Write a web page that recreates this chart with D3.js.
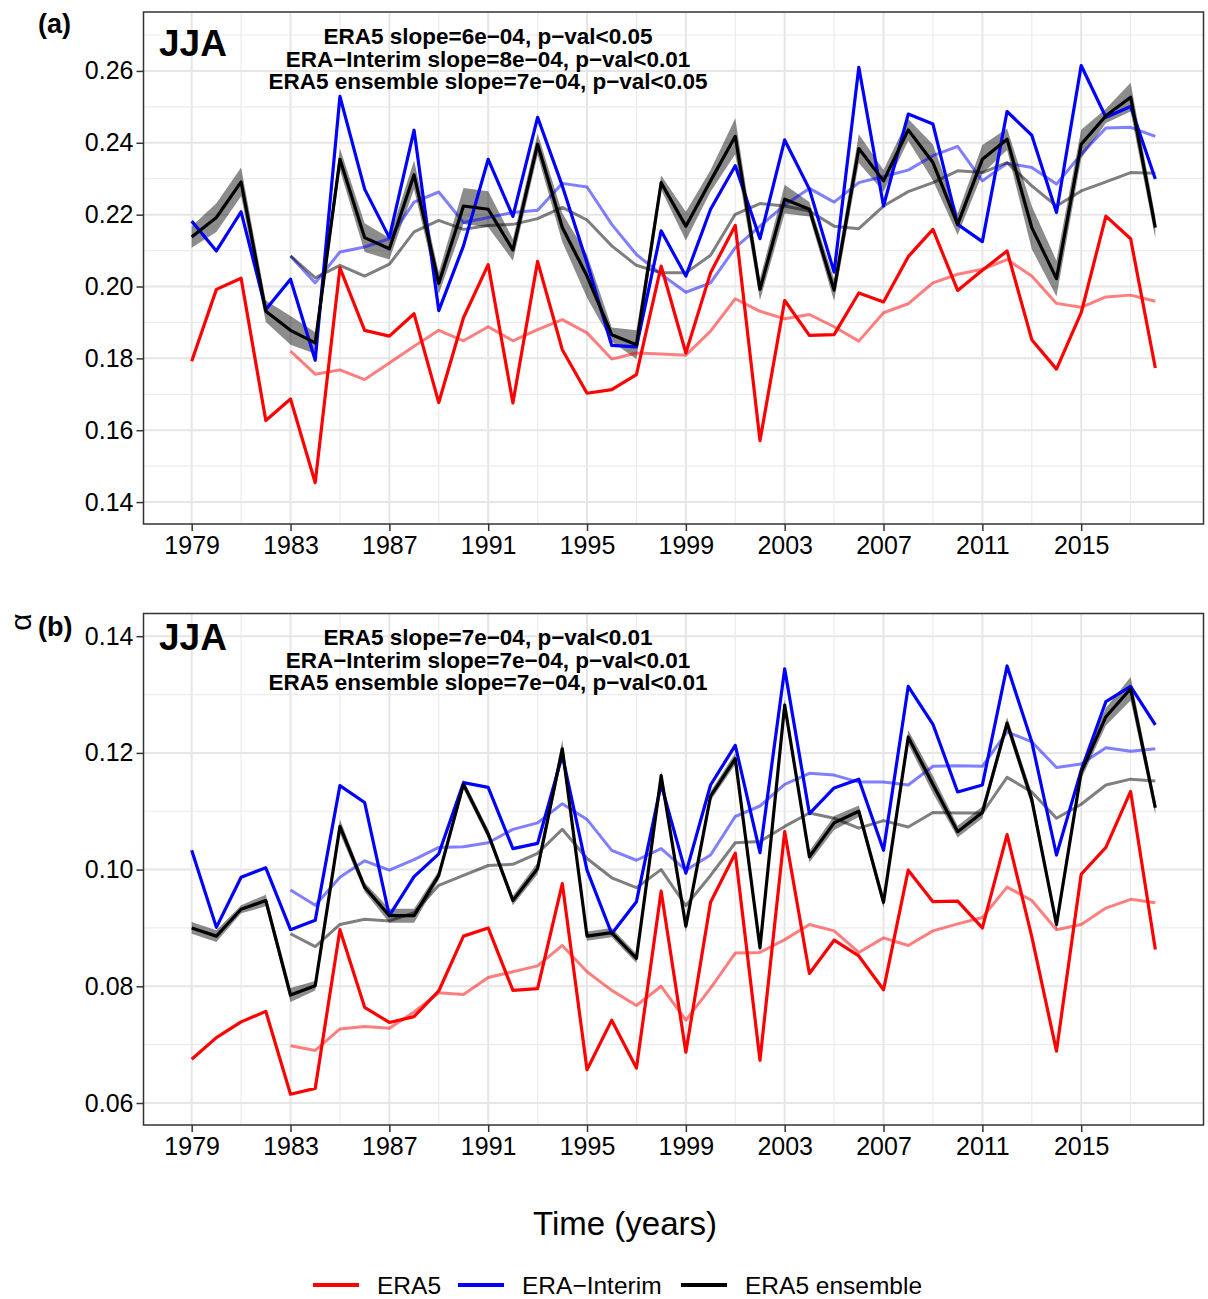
<!DOCTYPE html>
<html>
<head>
<meta charset="utf-8">
<script src="https://cdn.jsdelivr.net/npm/d3@7"></script>
<style>
  body { margin: 0; background: #fff; }
  svg { font-family: "Liberation Sans", Arial, sans-serif; }
</style>
</head>
<body>
<div id="chart"></div>
<script>
const years = [1979, 1980, 1981, 1982, 1983, 1984, 1985, 1986, 1987, 1988, 1989, 1990, 1991, 1992,
  1993, 1994, 1995, 1996, 1997, 1998, 1999, 2000, 2001, 2002, 2003, 2004, 2005, 2006,
  2007, 2008, 2009, 2010, 2011, 2012, 2013, 2014, 2015, 2016, 2017, 2018]
// the smoothed curves start in 1983
const smoothYears = years.slice(4)
const xTicks = [1979, 1983, 1987, 1991, 1995, 1999, 2003, 2007, 2011, 2015]

// panel (a)
const era5A = [0.1792, 0.1992, 0.2023, 0.1627, 0.1687, 0.1454, 0.2052, 0.1878, 0.1862, 0.1924, 0.1677, 0.1913, 0.2061,
  0.1676, 0.2070, 0.1824, 0.1703, 0.1713, 0.1755, 0.2057, 0.1815, 0.2038, 0.2170, 0.1571, 0.1961, 0.1864, 0.1866,
  0.1982, 0.1957, 0.2083, 0.2159, 0.1989, 0.2045, 0.2099, 0.1852, 0.1770, 0.1927, 0.2196, 0.2133, 0.1773]
const interimA = [0.2182, 0.2099, 0.2208, 0.1936, 0.2020, 0.1795, 0.2529, 0.2271, 0.2136, 0.2435, 0.1933, 0.2113, 0.2354,
  0.2195, 0.2471, 0.2280, 0.2066, 0.1836, 0.1832, 0.2155, 0.2029, 0.2215, 0.2336, 0.2133, 0.2408, 0.2271, 0.2040,
  0.2610, 0.2224, 0.2480, 0.2452, 0.2173, 0.2125, 0.2487, 0.2421, 0.2206, 0.2615, 0.2471, 0.2501, 0.2299]
const ensA = [0.2138, 0.2192, 0.2291, 0.1931, 0.1878, 0.1843, 0.2354, 0.2136, 0.2105, 0.2311, 0.2009, 0.2224, 0.2215,
  0.2102, 0.2396, 0.2164, 0.2029, 0.1866, 0.1838, 0.2289, 0.2168, 0.2294, 0.2418, 0.1992, 0.2243, 0.2215, 0.1990,
  0.2384, 0.2294, 0.2436, 0.2345, 0.2173, 0.2354, 0.2410, 0.2164, 0.2022, 0.2396, 0.2475, 0.2527, 0.2164]
const spreadA = [0.003, 0.004, 0.004, 0.003, 0.004, 0.003, 0.003, 0.004, 0.003, 0.004, 0.003, 0.005, 0.005,
  0.003, 0.003, 0.004, 0.006, 0.002, 0.004, 0.002, 0.004, 0.003, 0.005, 0.003, 0.004, 0.002, 0.003,
  0.004, 0.003, 0.003, 0.005, 0.003, 0.004, 0.003, 0.006, 0.005, 0.004, 0.002, 0.004, 0.003]
const era5SmoothA = [0.1820, 0.1756, 0.1768, 0.1741, 0.1787, 0.1834, 0.1878, 0.1849, 0.1888,
  0.1849, 0.1880, 0.1908, 0.1871, 0.1798, 0.1815, 0.1812, 0.1809, 0.1876, 0.1966, 0.1931, 0.1910, 0.1922, 0.1888,
  0.1848, 0.1927, 0.1952, 0.2010, 0.2034, 0.2048, 0.2075, 0.2029, 0.1953, 0.1942, 0.1971, 0.1976, 0.1959]
const interimSmoothA = [0.2085, 0.2010, 0.2096, 0.2110, 0.2133, 0.2235, 0.2263, 0.2178, 0.2192,
  0.2206, 0.2212, 0.2287, 0.2277, 0.2173, 0.2089, 0.2034, 0.1984, 0.2010, 0.2108, 0.2168, 0.2227, 0.2273, 0.2235,
  0.2289, 0.2306, 0.2324, 0.2364, 0.2390, 0.2294, 0.2343, 0.2331, 0.2285, 0.2368, 0.2441, 0.2443, 0.2418]
const ensSmoothA = [0.2085, 0.2024, 0.2059, 0.2029, 0.2062, 0.2152, 0.2184, 0.2159, 0.2170,
  0.2173, 0.2189, 0.2220, 0.2185, 0.2113, 0.2059, 0.2038, 0.2038, 0.2087, 0.2201, 0.2231, 0.2224, 0.2210, 0.2168,
  0.2161, 0.2224, 0.2264, 0.2289, 0.2322, 0.2317, 0.2345, 0.2280, 0.2224, 0.2266, 0.2291, 0.2317, 0.2315]
const yTicksA = [0.14, 0.16, 0.18, 0.20, 0.22, 0.24, 0.26]
const notesA = ['ERA5 slope=6e\u221204, p\u2212val<0.05',
  'ERA\u2212Interim slope=8e\u221204, p\u2212val<0.01',
  'ERA5 ensemble slope=7e\u221204, p\u2212val<0.05']

// panel (b)
const era5B = [0.0675, 0.0712, 0.0739, 0.0757, 0.0615, 0.0625, 0.0897, 0.0764, 0.0738, 0.0748, 0.0792, 0.0886, 0.0900,
  0.0793, 0.0796, 0.0976, 0.0657, 0.0742, 0.0660, 0.0963, 0.0687, 0.0944, 0.1028, 0.0673, 0.1065, 0.0822, 0.0879,
  0.0852, 0.0794, 0.0999, 0.0945, 0.0946, 0.0900, 0.1060, 0.0885, 0.0689, 0.0992, 0.1038, 0.1134, 0.0863]
const interimB = [0.1033, 0.0901, 0.0987, 0.1003, 0.0897, 0.0913, 0.1144, 0.1115, 0.0921, 0.0988, 0.1027, 0.1149, 0.1141,
  0.1036, 0.1045, 0.1196, 0.0999, 0.0890, 0.0945, 0.1146, 0.0994, 0.1145, 0.1213, 0.1029, 0.1344, 0.1096, 0.1140,
  0.1155, 0.1033, 0.1314, 0.1249, 0.1133, 0.1145, 0.1349, 0.1219, 0.1025, 0.1170, 0.1288, 0.1314, 0.1248]
const ensB = [0.0900, 0.0886, 0.0932, 0.0947, 0.0785, 0.0801, 0.1074, 0.0970, 0.0921, 0.0921, 0.0990, 0.1146, 0.1061,
  0.0947, 0.1002, 0.1207, 0.0886, 0.0892, 0.0848, 0.1161, 0.0903, 0.1126, 0.1190, 0.0866, 0.1282, 0.1022, 0.1080,
  0.1100, 0.0944, 0.1227, 0.1146, 0.1065, 0.1098, 0.1251, 0.1120, 0.0906, 0.1167, 0.1262, 0.1310, 0.1106]
const spreadB = [0.001, 0.001, 0.0007, 0.001, 0.0012, 0.0008, 0.0012, 0.0008, 0.0012, 0.0012, 0.0008, 0.0008, 0.0008,
  0.0008, 0.001, 0.0015, 0.0008, 0.0008, 0.0008, 0.0008, 0.001, 0.0008, 0.001, 0.0008, 0.001, 0.001, 0.0012,
  0.001, 0.001, 0.0012, 0.0015, 0.001, 0.001, 0.001, 0.0012, 0.001, 0.0012, 0.0015, 0.002, 0.0012]
const era5SmoothB = [0.0698, 0.0690, 0.0727, 0.0731, 0.0728, 0.0756, 0.0789, 0.0786, 0.0815,
  0.0825, 0.0835, 0.0870, 0.0825, 0.0793, 0.0767, 0.0800, 0.0742, 0.0797, 0.0857, 0.0858, 0.0880, 0.0906, 0.0895,
  0.0858, 0.0883, 0.0870, 0.0895, 0.0907, 0.0918, 0.0970, 0.0947, 0.0897, 0.0906, 0.0934, 0.0949, 0.0943]
const interimSmoothB = [0.0965, 0.0939, 0.0987, 0.1015, 0.0999, 0.1017, 0.1038, 0.1039, 0.1046,
  0.1069, 0.1080, 0.1113, 0.1086, 0.1033, 0.1016, 0.1036, 0.0999, 0.1025, 0.1091, 0.1109, 0.1146, 0.1165, 0.1162,
  0.1150, 0.1150, 0.1145, 0.1177, 0.1178, 0.1177, 0.1236, 0.1219, 0.1175, 0.1181, 0.1209, 0.1203, 0.1207]
const ensSmoothB = [0.0890, 0.0868, 0.0906, 0.0915, 0.0912, 0.0926, 0.0973, 0.0990, 0.1007,
  0.1009, 0.1028, 0.1069, 0.1019, 0.0986, 0.0969, 0.1000, 0.0938, 0.0990, 0.1046, 0.1048, 0.1074, 0.1097, 0.1088,
  0.1071, 0.1084, 0.1073, 0.1098, 0.1097, 0.1097, 0.1158, 0.1133, 0.1088, 0.1112, 0.1145, 0.1155, 0.1152]
const yTicksB = [0.06, 0.08, 0.10, 0.12, 0.14]
const notesB = ['ERA5 slope=7e\u221204, p\u2212val<0.01',
  'ERA\u2212Interim slope=7e\u221204, p\u2212val<0.01',
  'ERA5 ensemble slope=7e\u221204, p\u2212val<0.01']

const seriesNames = ['ERA5', 'ERA\u2212Interim', 'ERA5 ensemble']
const seriesColors = ['#ff0000', '#0000ff', '#000000']

const W = 1208
const H = 1299
const left = 143.5
const right = 1203.5

const svg = d3.select('#chart').append('svg')
  .attr('width', W)
  .attr('height', H)

const x = d3.scaleLinear()
  .domain([1977.05, 2019.95])
  .range([left, right])

const drawPanel = (opts) => {
  const { top, bottom, yDomain, yTicks, yMinor, era5, interim, ens, spread,
    era5Smooth, interimSmooth, ensSmooth, notes, tag, jjaY, noteY } = opts

  const y = d3.scaleLinear().domain(yDomain).range([bottom, top])
  const g = svg.append('g')

  // grid
  const xMinor = d3.range(1981, 2020, 4)
  g.selectAll('.xminor').data(xMinor).join('line')
    .attr('x1', d => x(d)).attr('x2', d => x(d))
    .attr('y1', top).attr('y2', bottom)
    .attr('stroke', '#ececec').attr('stroke-width', 1.2)
  g.selectAll('.yminor').data(yMinor).join('line')
    .attr('x1', left).attr('x2', right)
    .attr('y1', d => y(d)).attr('y2', d => y(d))
    .attr('stroke', '#ececec').attr('stroke-width', 1.2)
  g.selectAll('.xmajor').data(xTicks).join('line')
    .attr('x1', d => x(d)).attr('x2', d => x(d))
    .attr('y1', top).attr('y2', bottom)
    .attr('stroke', '#e6e6e6').attr('stroke-width', 2)
  g.selectAll('.ymajor').data(yTicks).join('line')
    .attr('x1', left).attr('x2', right)
    .attr('y1', d => y(d)).attr('y2', d => y(d))
    .attr('stroke', '#e6e6e6').attr('stroke-width', 2)

  // ensemble ribbon
  const area = d3.area()
    .x((d, i) => x(years[i]))
    .y0((d, i) => y(ens[i] - spread[i]))
    .y1((d, i) => y(ens[i] + spread[i]))
  g.append('path')
    .datum(ens)
    .attr('d', area)
    .attr('fill', '#000')
    .attr('fill-opacity', 0.45)

  const line = d3.line().x((d, i) => x(years[i])).y(d => y(d))
  const smoothLine = d3.line().x((d, i) => x(smoothYears[i])).y(d => y(d))

  const smooths = [era5Smooth, interimSmooth, ensSmooth]
  smooths.forEach((s, k) => {
    g.append('path')
      .datum(s)
      .attr('d', smoothLine)
      .attr('fill', 'none')
      .attr('stroke', seriesColors[k])
      .attr('stroke-opacity', 0.5)
      .attr('stroke-width', 3)
      .attr('stroke-linejoin', 'round')
  })

  const mains = [era5, interim, ens]
  mains.forEach((s, k) => {
    g.append('path')
      .datum(s)
      .attr('d', line)
      .attr('fill', 'none')
      .attr('stroke', seriesColors[k])
      .attr('stroke-width', 3.2)
      .attr('stroke-linejoin', 'round')
  })

  // border
  g.append('rect')
    .attr('x', left).attr('y', top)
    .attr('width', right - left).attr('height', bottom - top)
    .attr('fill', 'none')
    .attr('stroke', '#333')
    .attr('stroke-width', 1.5)

  // axes
  const yAxis = d3.axisLeft(y)
    .tickValues(yTicks)
    .tickFormat(d3.format('.2f'))
    .tickSize(7)
    .tickPadding(3)
  const ya = g.append('g')
    .attr('transform', 'translate(' + left + ',0)')
    .call(yAxis)
  ya.select('.domain').remove()

  const xAxis = d3.axisBottom(x)
    .tickValues(xTicks)
    .tickFormat(d3.format('d'))
    .tickSize(7)
    .tickPadding(5)
  const xa = g.append('g')
    .attr('transform', 'translate(0,' + bottom + ')')
    .call(xAxis)
  xa.select('.domain').remove()

  g.selectAll('.tick line').attr('stroke', '#333').attr('stroke-width', 1.5)
  g.selectAll('.tick text')
    .attr('fill', '#000')
    .style('font-size', '25px')
    .style('font-family', '"Liberation Sans", Arial, sans-serif')

  // panel tag and labels
  svg.append('text')
    .attr('x', 38).attr('y', tag.y)
    .style('font-size', '27px').style('font-weight', 'bold')
    .text(tag.text)

  svg.append('text')
    .attr('x', 159).attr('y', jjaY)
    .style('font-size', '37px').style('font-weight', 'bold')
    .text('JJA')

  notes.forEach((t, i) => {
    svg.append('text')
      .attr('x', 488).attr('y', noteY + i * 22.5)
      .attr('text-anchor', 'middle')
      .style('font-size', '22.5px').style('font-weight', 'bold')
      .text(t)
  })
}

drawPanel({
  top: 12, bottom: 524,
  yDomain: [0.1339, 0.2764],
  yTicks: yTicksA,
  yMinor: [0.15, 0.17, 0.19, 0.21, 0.23, 0.25, 0.27],
  era5: era5A, interim: interimA, ens: ensA, spread: spreadA,
  era5Smooth: era5SmoothA, interimSmooth: interimSmoothA, ensSmooth: ensSmoothA,
  notes: notesA,
  tag: { text: '(a)', y: 33 },
  jjaY: 56,
  noteY: 44
})

drawPanel({
  top: 613.5, bottom: 1125,
  yDomain: [0.05623, 0.14389],
  yTicks: yTicksB,
  yMinor: [0.07, 0.09, 0.11, 0.13],
  era5: era5B, interim: interimB, ens: ensB, spread: spreadB,
  era5Smooth: era5SmoothB, interimSmooth: interimSmoothB, ensSmooth: ensSmoothB,
  notes: notesB,
  tag: { text: '(b)', y: 636 },
  jjaY: 650,
  noteY: 645
})

// shared y title
svg.append('text')
  .attr('transform', 'translate(31,622) rotate(-90)')
  .attr('text-anchor', 'middle')
  .style('font-size', '30px')
  .text('\u03b1')

// x title
svg.append('text')
  .attr('x', 625).attr('y', 1235)
  .attr('text-anchor', 'middle')
  .style('font-size', '33px')
  .text('Time (years)')

// legend
const legendX = [313, 458, 681]
const legend = svg.append('g')
seriesNames.forEach((name, i) => {
  legend.append('line')
    .attr('x1', legendX[i]).attr('x2', legendX[i] + 46)
    .attr('y1', 1285).attr('y2', 1285)
    .attr('stroke', seriesColors[i])
    .attr('stroke-width', 4)
  legend.append('text')
    .attr('x', legendX[i] + 64).attr('y', 1294)
    .style('font-size', '24.5px')
    .text(name)
})
</script>
</body>
</html>
